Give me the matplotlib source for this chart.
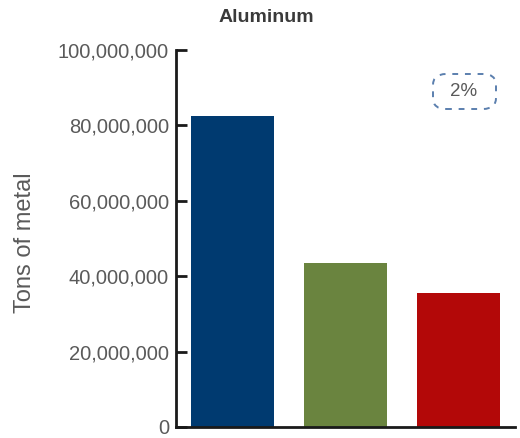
import matplotlib
matplotlib.use("Agg")
import matplotlib.pyplot as plt
from matplotlib.ticker import FuncFormatter
from matplotlib.patches import FancyBboxPatch

categories = ["A", "B", "C"]
values = [82500000, 43500000, 35500000]
colors = ["#003a70", "#6a843f", "#b30808"]
yticks = [0, 20000000, 40000000, 60000000, 80000000, 100000000]

plt.rcParams['font.family'] = ['Liberation Sans', 'DejaVu Sans']

fig = plt.figure(figsize=(5.2, 4.38), dpi=100)
ax = fig.add_axes([176/520, 1-427/438, (515-176)/520, (427-50)/438])

x = range(len(categories))
ax.bar(x, values, width=0.73, color=colors)
ax.set_xlim(-0.5, 2.5)
ax.set_ylim(0, 100000000)
ax.set_yticks(yticks)
ax.yaxis.set_major_formatter(FuncFormatter(lambda v, p: f"{int(v):,}"))
ax.set_xticks([])
for s in ["top", "right"]:
    ax.spines[s].set_visible(False)
for s in ["left", "bottom"]:
    ax.spines[s].set_linewidth(2)
    ax.spines[s].set_color("#1a1a1a")
ax.tick_params(axis="y", direction="in", length=8, width=2, color="#1a1a1a",
               labelsize=14.5, labelcolor="#5a5a5a", pad=5)
ax.set_ylabel("Tons of metal", fontsize=17, color="#5a5a5a")
ax.yaxis.set_label_coords(-(176-36)/339, 0.49)

fig.text(266/520, 1-18/438, "Aluminum", ha="center", va="center",
         fontsize=14, fontweight="bold", color="#3a3a3a")

box = FancyBboxPatch((433/520, 1-109/438), (496-433)/520, (109-74)/438,
                     boxstyle="round,pad=0,rounding_size=0.025",
                     transform=fig.transFigure, fill=False,
                     edgecolor="#5b7fae", linestyle=(0, (3, 3.5)), linewidth=1.4)
fig.patches.append(box)
fig.text(464/520, 1-92/438, "2%", ha="center", va="center", fontsize=13.5,
         color="#5a5a5a")

fig.savefig("out.png", dpi=100)
